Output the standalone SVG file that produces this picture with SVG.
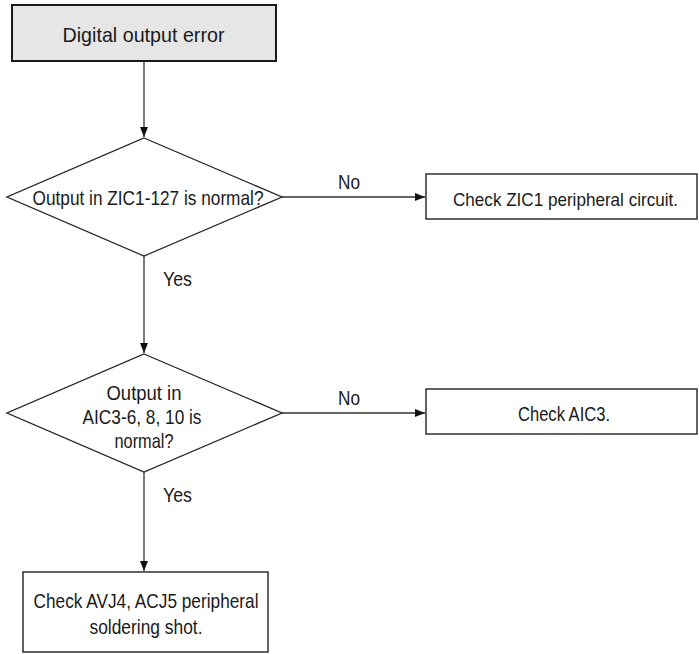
<svg xmlns="http://www.w3.org/2000/svg" width="699" height="654" viewBox="0 0 699 654">
  <style>
    .box { fill: #ffffff; stroke: #222222; stroke-width: 1.4; }
    .start { fill: #e6e6e6; stroke: #1a1a1a; stroke-width: 2; }
    .dec { fill: #ffffff; stroke: #222222; stroke-width: 1.3; }
    .wire { fill: none; stroke: #333333; stroke-width: 1.3; marker-end: url(#arrow); }
    text { font-family: "Liberation Sans", Arial, sans-serif; font-size: 21px; fill: #1a1a1a; }
    .c { text-anchor: middle; }
    .s { font-size: 19px; }
  </style>
  <defs>
    <marker id="arrow" viewBox="0 0 10 8" refX="10" refY="4" markerWidth="10" markerHeight="8" markerUnits="userSpaceOnUse" orient="auto">
      <path d="M0,0 L10,4 L0,8 Z" fill="#111111"/>
    </marker>
  </defs>

  <g id="connectors">
    <line class="wire" x1="144" y1="62" x2="144" y2="137"/>
    <line class="wire" x1="282" y1="197" x2="425" y2="197"/>
    <line class="wire" x1="144" y1="256" x2="144" y2="353"/>
    <line class="wire" x1="282" y1="413" x2="425" y2="413"/>
    <line class="wire" x1="144" y1="472" x2="144" y2="571"/>
    <text x="338" y="189" textLength="22" lengthAdjust="spacingAndGlyphs">No</text>
    <text x="338" y="405" textLength="22" lengthAdjust="spacingAndGlyphs">No</text>
    <text x="163" y="286" textLength="29" lengthAdjust="spacingAndGlyphs">Yes</text>
    <text x="163" y="502" textLength="29" lengthAdjust="spacingAndGlyphs">Yes</text>
  </g>

  <g id="start">
    <rect class="start" x="12" y="5" width="264" height="56"/>
    <text class="c" x="143.5" y="42" textLength="162" lengthAdjust="spacingAndGlyphs">Digital output error</text>
  </g>

  <g id="check-zic1-output">
    <polygon class="dec" points="144,138 282,197 144,256 7,197"/>
    <text class="c" x="148" y="205" textLength="231" lengthAdjust="spacingAndGlyphs">Output in ZIC1-127 is normal?</text>
  </g>

  <g id="zic1-circuit">
    <rect class="box" x="426" y="174" width="271" height="45"/>
    <text class="c s" x="565.5" y="206" textLength="225" lengthAdjust="spacingAndGlyphs">Check ZIC1 peripheral circuit.</text>
  </g>

  <g id="check-aic3-output">
    <polygon class="dec" points="144,354 282,413 144,472 7,413"/>
    <text class="c" x="144" y="400" textLength="75" lengthAdjust="spacingAndGlyphs">Output in</text>
    <text class="c" x="142" y="424" textLength="119" lengthAdjust="spacingAndGlyphs">AIC3-6, 8, 10 is</text>
    <text class="c" x="144" y="448" textLength="59" lengthAdjust="spacingAndGlyphs">normal?</text>
  </g>

  <g id="aic3">
    <rect class="box" x="426" y="389" width="271" height="45"/>
    <text class="c" x="564" y="421" textLength="92" lengthAdjust="spacingAndGlyphs">Check AIC3.</text>
  </g>

  <g id="soldering">
    <rect class="box" x="23" y="572" width="245" height="80"/>
    <text class="c" x="146" y="608" textLength="225" lengthAdjust="spacingAndGlyphs">Check AVJ4, ACJ5 peripheral</text>
    <text class="c" x="146" y="634" textLength="113" lengthAdjust="spacingAndGlyphs">soldering shot.</text>
  </g>
</svg>
